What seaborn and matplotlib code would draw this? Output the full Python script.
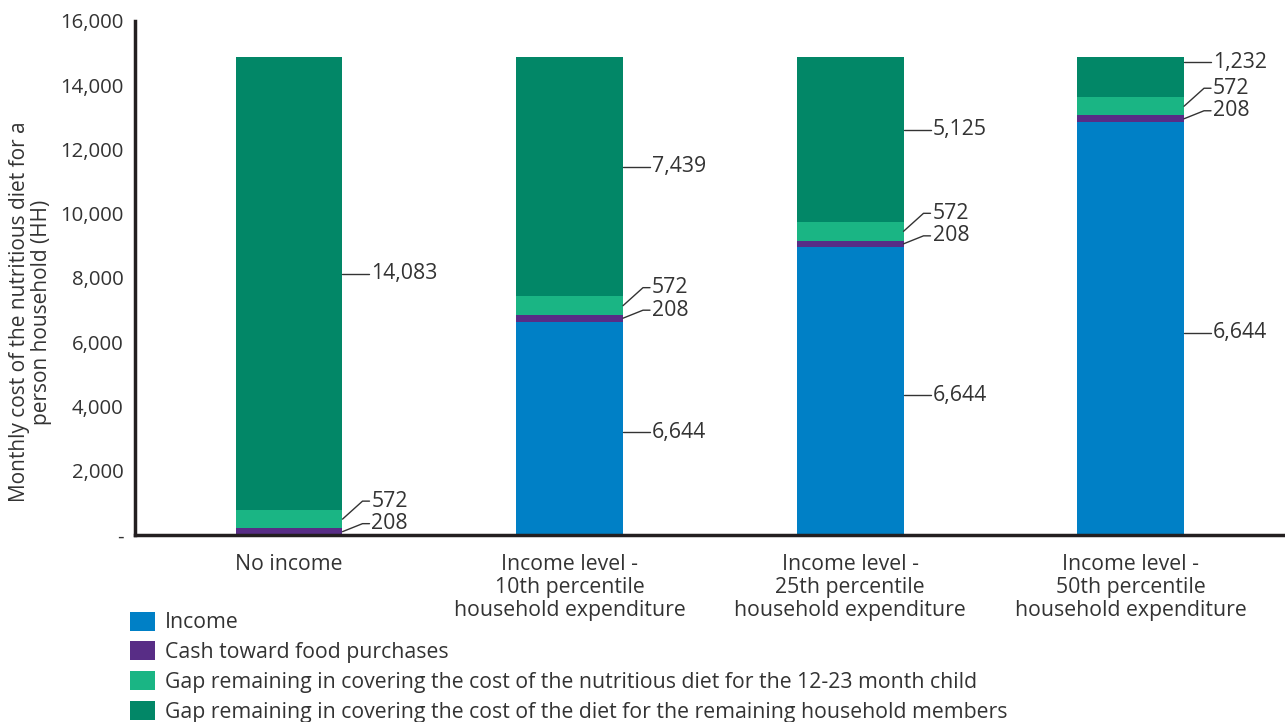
import matplotlib.pyplot as plt
import matplotlib.ticker as mticker
from matplotlib.patches import Patch
import pandas as pd
import seaborn as sns

# chart data
categories = ['No income',
              'Income level -\n10th percentile\nhousehold expenditure',
              'Income level -\n25th percentile\nhousehold expenditure',
              'Income level -\n50th percentile\nhousehold expenditure']
income = [0, 6644, 8958, 12851]
cash = [208, 208, 208, 208]
child_gap = [572, 572, 572, 572]
hh_gap = [14083, 7439, 5125, 1232]
# labels as printed on the original chart
income_labels = ['', '6,644', '6,644', '6,644']

series_names = ['Income',
                'Cash toward food purchases',
                'Gap remaining in covering the cost of the nutritious diet for the 12-23 month child',
                'Gap remaining in covering the cost of the diet for the remaining household members']
colors = ['#0080C6', '#582D86', '#1AB584', '#028767']

df = pd.DataFrame({'cat': categories, 'income': income, 'cash': cash,
                   'child': child_gap, 'hh': hh_gap})
df['top_income'] = df['income']
df['top_cash'] = df['top_income'] + df['cash']
df['top_child'] = df['top_cash'] + df['child']
df['top_hh'] = df['top_child'] + df['hh']

sns.set_style('white')
plt.rcParams['font.family'] = ['Open Sans', 'DejaVu Sans']
plt.rcParams['text.color'] = '#333333'
FS = 15.3

fig = plt.figure(figsize=(12.85, 7.22), dpi=100)
ax = fig.add_axes([0.105, 0.259, 0.895, 0.712])

bar_w = 0.38
# draw the stacks from the tallest layer down
for col, c in zip(['top_hh', 'top_child', 'top_cash', 'top_income'], colors[::-1]):
    sns.barplot(data=df, x='cat', y=col, color=c, saturation=1, width=bar_w,
                order=categories, ax=ax, errorbar=None, linewidth=0)

ax.set_ylim(0, 16000)
ax.set_xlim(-0.55, 3.55)
ax.yaxis.set_major_locator(mticker.MultipleLocator(2000))
ax.yaxis.set_major_formatter(mticker.FuncFormatter(lambda v, p: '-' if v == 0 else f'{v:,.0f}'))
ax.tick_params(axis='both', length=0, colors='#333333')
ax.tick_params(axis='y', labelsize=14.7, pad=8)
ax.tick_params(axis='x', labelsize=FS, pad=14)
for t in ax.get_xticklabels():
    t.set_linespacing(1.1)
ax.set_xlabel('')
ax.set_ylabel('Monthly cost of the nutritious diet for a\nperson household (HH)', fontsize=15,
              color='#333333', linespacing=1.1)
ax.yaxis.set_label_coords(-0.072, 0.434)
for s in ['top', 'right']:
    ax.spines[s].set_visible(False)
for s in ['left', 'bottom']:
    ax.spines[s].set_color('#231F20')
    ax.spines[s].set_linewidth(2.5)

# leader-line labels
px_x = 4.1 / (1285 * 0.895)
px_y = 16000 / (722 * 0.712)


def label(i, lo, hi, text, dy):
    x_e = i + bar_w / 2
    mid = (lo + hi) / 2
    ly = mid + dy * px_y
    anchor = ly if lo <= ly <= hi else mid
    ax.plot([x_e, x_e + 20 * px_x, x_e + 27 * px_x], [anchor, ly, ly],
            color='#333333', lw=1, clip_on=False)
    ax.text(x_e + 29 * px_x, ly, text, fontsize=FS, va='center', ha='left', color='#333333')


for i in range(len(categories)):
    r = df.iloc[i]
    if income_labels[i]:
        label(i, 0, r['top_income'], income_labels[i], -4)
    label(i, r['top_income'], r['top_cash'], f"{r['cash']:,}", 8)
    label(i, r['top_cash'], r['top_child'], f"{r['child']:,}", 18)
    label(i, r['top_child'], r['top_hh'], f"{r['hh']:,}", 15 if r['hh'] < 2000 else 10)

handles = [Patch(facecolor=c, edgecolor='none') for c in colors]
fig.legend(handles, series_names, loc='upper left', bbox_to_anchor=(0.101, 0.153),
           frameon=False, fontsize=FS, handlelength=1.18, handleheight=1.0,
           handletextpad=0.47, labelspacing=0.38, borderaxespad=0, borderpad=0)

fig.savefig('out.png', dpi=100)
